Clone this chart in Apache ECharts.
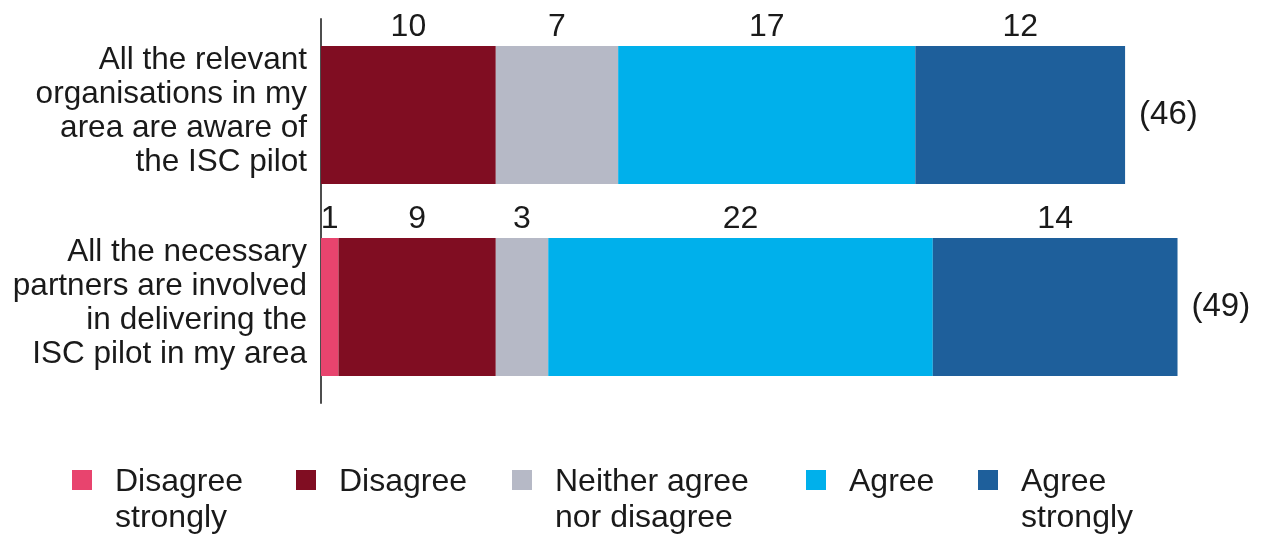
<!DOCTYPE html>
<html>
<head>
<meta charset="utf-8">
<script src="https://cdn.jsdelivr.net/npm/echarts@6/dist/echarts.min.js"></script>
<style>
  html, body { margin: 0; padding: 0; background: #ffffff; }
  #chart { width: 1263px; height: 535px; }
</style>
</head>
<body>
<div id="chart"></div>
<script>
// Survey statements (top to bottom)
const statements = [
  'All the relevant\norganisations in my\narea are aware of\nthe ISC pilot',
  'All the necessary\npartners are involved\nin delivering the\nISC pilot in my area'
];

// Response counts per statement
const disagreeStrongly = [0, 1];
const disagree = [10, 9];
const neither = [7, 3];
const agree = [17, 22];
const agreeStrongly = [12, 14];

const responseNames = ['Disagree\nstrongly', 'Disagree', 'Neither agree\nnor disagree', 'Agree', 'Agree\nstrongly'];
const responseColors = ['#E8446E', '#800D22', '#B6B9C6', '#00B0EB', '#1E5F9B'];
const responseValues = [disagreeStrongly, disagree, neither, agree, agreeStrongly];

// Number of respondents per statement
const totals = statements.map((_, i) => responseValues.reduce((s, arr) => s + arr[i], 0));

const FONT = 'Arial, "Liberation Sans", Helvetica, sans-serif';
const TEXT = '#1a1a1a';

const stackSeries = responseNames.map((name, k) => ({
  name: name,
  type: 'bar',
  stack: 'responses',
  barCategoryGap: '28%',
  barGap: '-100%',
  data: responseValues[k],
  itemStyle: { color: responseColors[k] },
  label: {
    show: true,
    position: 'top',
    distance: 3,
    color: TEXT,
    fontFamily: FONT,
    fontSize: 32,
    formatter: p => (p.value ? String(p.value) : '')
  },
  emphasis: { disabled: true }
}));

// Invisible bar spanning the whole stack, carrying the respondent count
const totalSeries = {
  name: 'Total',
  type: 'bar',
  stack: 'total',
  barCategoryGap: '28%',
  barGap: '-100%',
  data: totals,
  itemStyle: { color: 'rgba(0,0,0,0)' },
  z: 1,
  label: {
    show: true,
    position: 'right',
    distance: 14,
    color: TEXT,
    fontFamily: FONT,
    fontSize: 33,
    formatter: p => '(' + p.value + ')'
  },
  emphasis: { disabled: true },
  silent: true
};

// One legend block per response, placed along the bottom.
// A spacer line above the text sets where the first line sits next to the swatch.
const legendLeft = [72, 296, 512, 806, 978];
const legends = responseNames.map((name, k) => {
  const twoLines = name.indexOf('\n') >= 0;
  return {
    data: [name],
    left: legendLeft[k],
    top: twoLines ? 424 : 460,
    padding: 0,
    itemWidth: 20,
    itemHeight: 20,
    icon: 'rect',
    selectedMode: false,
    formatter: n => '{gap| }\n' + n,
    textStyle: {
      color: TEXT,
      fontFamily: FONT,
      fontSize: 32,
      lineHeight: 36,
      padding: [0, 0, 0, 18],
      rich: {
        gap: { fontSize: 4, lineHeight: twoLines ? 40 : 4 }
      }
    }
  };
});

const chart = echarts.init(document.getElementById('chart'));
chart.setOption({
  animation: false,
  backgroundColor: '#ffffff',
  legend: legends,
  grid: { left: 321, top: 19, width: 874, height: 384, containLabel: false },
  xAxis: {
    type: 'value',
    min: 0,
    max: 50,
    show: false
  },
  yAxis: {
    type: 'category',
    data: statements,
    inverse: true,
    axisLine: { show: true, lineStyle: { color: '#4d4d4d', width: 2 } },
    axisTick: { show: false },
    axisLabel: {
      margin: 14,
      color: TEXT,
      fontFamily: FONT,
      fontSize: 31.5,
      lineHeight: 34,
      align: 'right',
      // trailing spacer line lifts the statement text slightly above the bar centre
      formatter: v => v + '\n{gap| }',
      rich: {
        gap: { fontSize: 4, lineHeight: 8 }
      }
    }
  },
  series: [totalSeries].concat(stackSeries)
});
</script>
</body>
</html>
